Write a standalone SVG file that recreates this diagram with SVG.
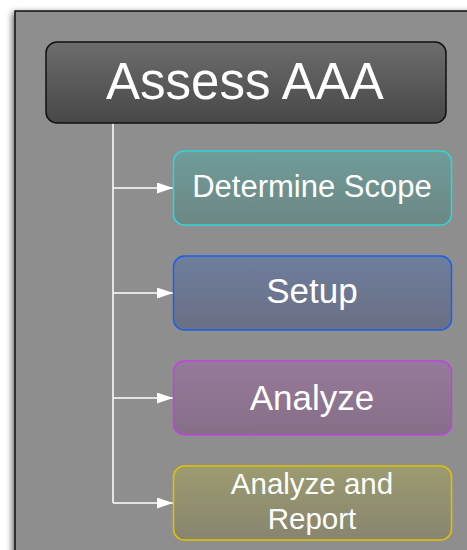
<svg xmlns="http://www.w3.org/2000/svg" width="467" height="550" viewBox="0 0 467 550">
  <defs>
    <filter id="panelShadow" x="-10%" y="-10%" width="120%" height="120%">
      <feGaussianBlur in="SourceAlpha" stdDeviation="3"/>
      <feOffset dx="-2" dy="2"/>
      <feComponentTransfer><feFuncA type="linear" slope="0.6"/></feComponentTransfer>
      <feMerge><feMergeNode/><feMergeNode in="SourceGraphic"/></feMerge>
    </filter>
    <linearGradient id="gRoot" x1="0" y1="0" x2="0" y2="1">
      <stop offset="0" stop-color="#6d6d6d"/>
      <stop offset="1" stop-color="#474747"/>
    </linearGradient>
    <linearGradient id="gScope" x1="0" y1="0" x2="0" y2="1">
      <stop offset="0" stop-color="#6f9c99"/>
      <stop offset="1" stop-color="#6d8784"/>
    </linearGradient>
    <linearGradient id="gSetup" x1="0" y1="0" x2="0" y2="1">
      <stop offset="0" stop-color="#6e7e9c"/>
      <stop offset="1" stop-color="#6a6f84"/>
    </linearGradient>
    <linearGradient id="gAnalyze" x1="0" y1="0" x2="0" y2="1">
      <stop offset="0" stop-color="#977a9b"/>
      <stop offset="1" stop-color="#856f87"/>
    </linearGradient>
    <linearGradient id="gReport" x1="0" y1="0" x2="0" y2="1">
      <stop offset="0" stop-color="#9c9b70"/>
      <stop offset="1" stop-color="#87856f"/>
    </linearGradient>
    <marker id="arrow" markerWidth="16" markerHeight="11" refX="16" refY="5.5" orient="auto" markerUnits="userSpaceOnUse">
      <path d="M0,0 L16,5.5 L0,11 Z" fill="#ffffff"/>
    </marker>
    <style>
      .label { font-family: "Liberation Sans", Arial, sans-serif; fill: #ffffff; text-anchor: middle; }
      .box { stroke-width: 1.5; }
      .conn { stroke: #ffffff; stroke-width: 1.5; fill: none; }
    </style>
  </defs>

  <rect x="0" y="0" width="467" height="550" fill="#ffffff"/>

  <!-- canvas panel -->
  <rect x="15" y="11" width="470" height="560" fill="#8e8e8e" stroke="#111111" stroke-width="1.5" filter="url(#panelShadow)"/>

  <!-- connectors -->
  <g id="connectors">
    <path class="conn" d="M113,123 V503"/>
    <path class="conn" d="M113,188 H173" marker-end="url(#arrow)"/>
    <path class="conn" d="M113,293 H173" marker-end="url(#arrow)"/>
    <path class="conn" d="M113,398 H173" marker-end="url(#arrow)"/>
    <path class="conn" d="M113,503 H173" marker-end="url(#arrow)"/>
  </g>

  <g id="assess-aaa">
    <rect x="46" y="42" width="400" height="81" rx="11" fill="url(#gRoot)" stroke="#111111" stroke-width="1.5"/>
    <text class="label" x="245" y="99" font-size="51">Assess AAA</text>
  </g>

  <g id="determine-scope">
    <rect class="box" x="173.5" y="151" width="278" height="74" rx="11" fill="url(#gScope)" stroke="#2fd6d6"/>
    <text class="label" x="312" y="197" font-size="31">Determine Scope</text>
  </g>

  <g id="setup">
    <rect class="box" x="173.5" y="256" width="278" height="74" rx="11" fill="url(#gSetup)" stroke="#1a60ea"/>
    <text class="label" x="312" y="303" font-size="35">Setup</text>
  </g>

  <g id="analyze">
    <rect class="box" x="173.5" y="361" width="278" height="74" rx="11" fill="url(#gAnalyze)" stroke="#c043e0"/>
    <text class="label" x="312" y="410" font-size="35">Analyze</text>
  </g>

  <g id="analyze-and-report">
    <rect class="box" x="173.5" y="466" width="278" height="74" rx="11" fill="url(#gReport)" stroke="#e2c200"/>
    <text class="label" x="312" y="494" font-size="29.5">Analyze and</text>
    <text class="label" x="312" y="529" font-size="29.5">Report</text>
  </g>
</svg>
